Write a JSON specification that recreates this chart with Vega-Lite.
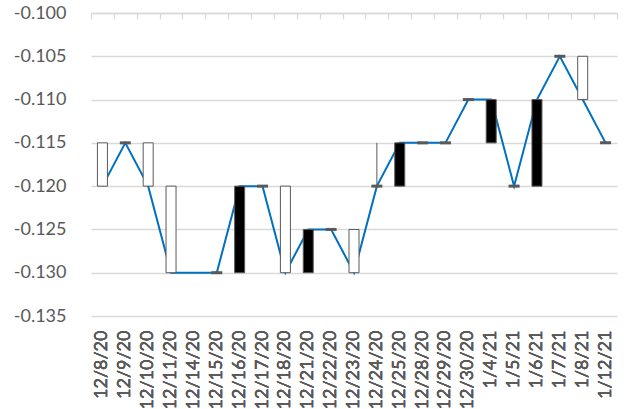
{
  "$schema": "https://vega.github.io/schema/vega-lite/v6.json",
  "autosize": "none",
  "width": 526,
  "height": 303,
  "padding": {"left": 91, "top": 13, "right": 11, "bottom": 93},
  "background": "white",
  "config": {"view": {"stroke": null}, "font": "Lato"},
  "data": {"values": [
    {"date": "12/8/20", "open": -0.120, "close": -0.115},
    {"date": "12/9/20", "open": -0.115, "close": -0.115},
    {"date": "12/10/20", "open": -0.120, "close": -0.115},
    {"date": "12/11/20", "open": -0.130, "close": -0.120},
    {"date": "12/14/20", "open": -0.130, "close": null},
    {"date": "12/15/20", "open": -0.130, "close": -0.130},
    {"date": "12/16/20", "open": -0.120, "close": -0.130},
    {"date": "12/17/20", "open": -0.120, "close": -0.120},
    {"date": "12/18/20", "open": -0.130, "close": -0.120},
    {"date": "12/21/20", "open": -0.125, "close": -0.130},
    {"date": "12/22/20", "open": -0.125, "close": -0.125},
    {"date": "12/23/20", "open": -0.130, "close": -0.125},
    {"date": "12/24/20", "open": -0.120, "close": -0.120, "high": -0.115, "low": -0.120},
    {"date": "12/25/20", "open": -0.115, "close": -0.120},
    {"date": "12/28/20", "open": -0.115, "close": -0.115},
    {"date": "12/29/20", "open": -0.115, "close": -0.115},
    {"date": "12/30/20", "open": -0.110, "close": -0.110},
    {"date": "1/4/21", "open": -0.110, "close": -0.115},
    {"date": "1/5/21", "open": -0.120, "close": -0.120},
    {"date": "1/6/21", "open": -0.110, "close": -0.120},
    {"date": "1/7/21", "open": -0.105, "close": -0.105},
    {"date": "1/8/21", "open": -0.110, "close": -0.105},
    {"date": "1/12/21", "open": -0.115, "close": -0.115}
  ]},
  "encoding": {
    "x": {"field": "date", "type": "nominal", "sort": null,
      "scale": {"type": "band", "paddingInner": 0, "paddingOuter": 0},
      "axis": {"orient": "bottom", "title": null, "labelAngle": -90, "labelAlign": "right", "labelBaseline": "middle",
        "labelFontSize": 18, "labelColor": "#595959", "labelPadding": 14, "domain": false, "ticks": false, "labelFont": "Lato"}}
  },
  "layer": [
    {
      "mark": {"type": "line", "color": "#0070C0", "strokeWidth": 2},
      "encoding": {
        "y": {"field": "open", "type": "quantitative",
          "scale": {"domain": [-0.135, -0.1], "nice": false, "zero": false},
          "axis": {"title": null, "values": [-0.135, -0.13, -0.125, -0.12, -0.115, -0.11, -0.105, -0.1], "format": ".3f",
            "labelExpr": "replace(datum.label, '\u2212', '-')",
            "grid": true, "gridColor": "#d9d9d9", "gridWidth": 1.3, "domain": false, "ticks": false,
            "labelFontSize": 18, "labelColor": "#595959", "labelPadding": 25, "labelFont": "Lato"}}
      }
    },
    {
      "transform": [{"filter": "isValid(datum.high)"}],
      "mark": {"type": "rule", "color": "#595959", "strokeWidth": 1},
      "encoding": {
        "y": {"field": "low", "type": "quantitative"},
        "y2": {"field": "high"}
      }
    },
    {
      "transform": [{"filter": "isValid(datum.close) && datum.close != datum.open"}],
      "mark": {"type": "bar", "width": 10, "stroke": "#595959", "strokeWidth": 1},
      "encoding": {
        "y": {"field": "open", "type": "quantitative"},
        "y2": {"field": "close"},
        "fill": {"condition": {"test": "datum.close > datum.open", "value": "white"}, "value": "black"}
      }
    },
    {
      "transform": [{"filter": "isValid(datum.close) && datum.close == datum.open"}],
      "mark": {"type": "tick", "color": "#595959", "thickness": 3, "size": 11, "opacity": 1},
      "encoding": {
        "y": {"field": "open", "type": "quantitative"}
      }
    },
    {
      "mark": {"type": "point", "opacity": 0},
      "encoding": {
        "y": {"field": "open", "type": "quantitative"},
        "x": {"field": "date", "type": "nominal", "sort": null,
          "axis": {"orient": "top", "title": null, "labels": false, "domain": true, "domainColor": "#d9d9d9", "domainWidth": 1.3,
            "ticks": true, "tickBand": "extent", "tickSize": -6, "tickColor": "#d9d9d9", "tickWidth": 1.3}}
      }
    }
  ]
}
